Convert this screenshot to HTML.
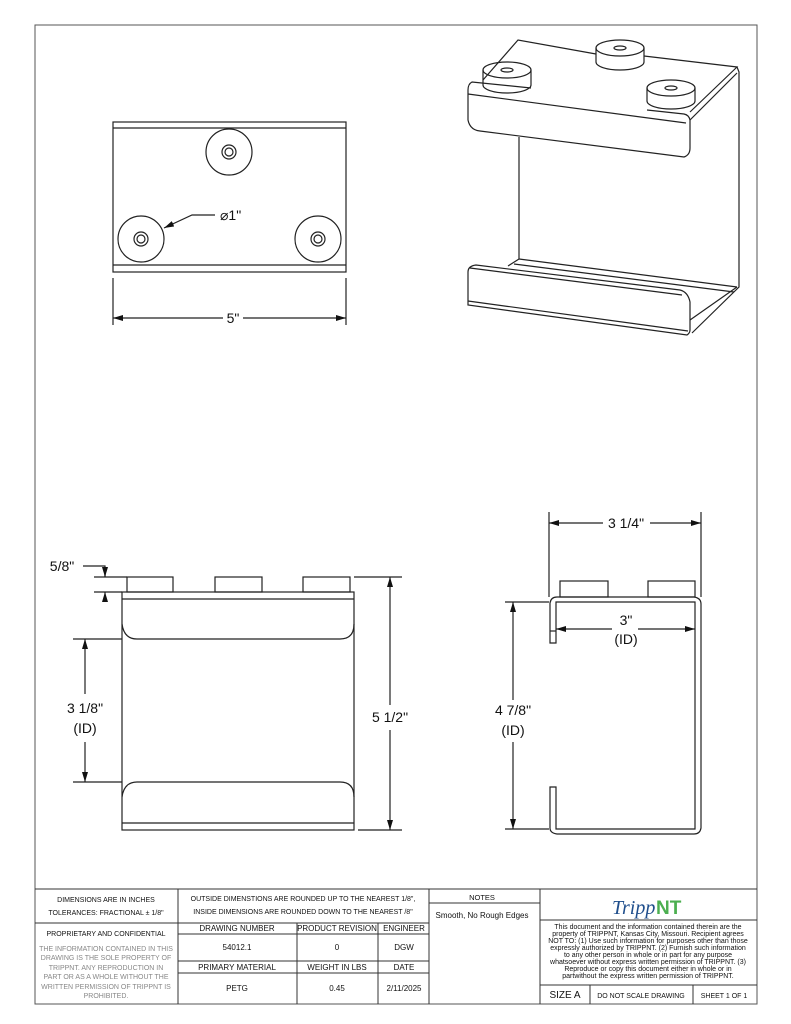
<!DOCTYPE html>
<html><head><meta charset="utf-8"><style>
html,body{margin:0;padding:0;background:#fff;}
svg{display:block;}
text{font-family:"Liberation Sans",sans-serif;fill:#111;}
</style></head><body>
<svg width="791" height="1024" viewBox="0 0 791 1024" xmlns="http://www.w3.org/2000/svg">
<defs>
<marker id="a" viewBox="0 0 10 6" refX="10" refY="3" markerWidth="10" markerHeight="6" orient="auto-start-reverse" markerUnits="userSpaceOnUse"><path d="M0,0 L10,3 L0,6 z" fill="#111"/></marker>
</defs>
<rect x="0" y="0" width="791" height="1024" fill="#fff"/>
<rect x="35" y="25" width="722" height="979" fill="none" stroke="#555" stroke-width="1"/>

<g fill="none" stroke="#222" stroke-width="1.2">
<!-- TOP VIEW -->
<rect x="113" y="122" width="233" height="150"/>
<line x1="113" y1="128" x2="346" y2="128"/>
<line x1="113" y1="265" x2="346" y2="265"/>
<circle cx="229" cy="152" r="23"/><circle cx="229" cy="152" r="7"/><circle cx="229" cy="152" r="4"/>
<circle cx="141" cy="239" r="23"/><circle cx="141" cy="239" r="7"/><circle cx="141" cy="239" r="4"/>
<circle cx="318" cy="239" r="23"/><circle cx="318" cy="239" r="7"/><circle cx="318" cy="239" r="4"/>
<polyline points="215,215 192,215 164,228" marker-end="url(#a)"/>
<line x1="113" y1="278" x2="113" y2="325"/>
<line x1="346" y1="278" x2="346" y2="325"/>
<line x1="113" y1="318" x2="223" y2="318" marker-start="url(#a)"/>
<line x1="243" y1="318" x2="346" y2="318" marker-end="url(#a)"/>

<!-- ISO VIEW -->
<ellipse cx="507" cy="70" rx="24" ry="8"/>
<path d="M483,70 V85 A24,8 0 0 0 531,85 V70"/>
<ellipse cx="507" cy="70" rx="6" ry="2"/>
<ellipse cx="620" cy="48" rx="24" ry="8"/>
<path d="M596,48 V62 A24,8 0 0 0 644,62 V48"/>
<ellipse cx="620" cy="48" rx="6" ry="2"/>
<ellipse cx="671" cy="88" rx="24" ry="8"/>
<path d="M647,88 V101 A24,8 0 0 0 695,101 V88"/>
<ellipse cx="671" cy="88" rx="6" ry="2"/>
<path d="M483,80 L518,40 L596,54"/>
<path d="M644,56 L737,67 L690,112"/>
<path d="M531,88 L472,82 Q468,84 468,90 L468,120 Q470,130 480,131 L684,157 Q690,155 690,148 L690,120 Q689,115 684,114 L647,110"/>
<path d="M468,94 L686,123"/>
<path d="M737,67 L739,72 L739,287 L692,333"/>
<path d="M690,120 L737,73"/>
<line x1="519" y1="137" x2="519" y2="259"/>
<path d="M519,259 L737,287"/>
<path d="M519,259 L508,266"/>
<path d="M514,264 L734,292"/>
<path d="M476,265 Q468,266 468,272 L468,305 L687,335 Q690,333 690,330 L690,302 Q688,292 680,290 L476,265 Z"/>
<path d="M470,268 L682,295"/>
<path d="M468,301 L688,331"/>
<path d="M690,320 L737,287"/>

<!-- FRONT VIEW -->
<rect x="127" y="577" width="46" height="15"/>
<rect x="215" y="577" width="47" height="15"/>
<rect x="303" y="577" width="47" height="15"/>
<rect x="122" y="592" width="232" height="238"/>
<line x1="122" y1="599" x2="354" y2="599"/>
<line x1="122" y1="823" x2="354" y2="823"/>
<path d="M122,624 Q124,639 137,639 L340,639 Q354,639 354,624"/>
<path d="M122,797 Q124,782 137,782 L340,782 Q354,782 354,797"/>
<line x1="94" y1="577" x2="127" y2="577"/>
<line x1="94" y1="592" x2="122" y2="592"/>
<polyline points="83,566 105,566 105,577"/>
<line x1="105" y1="567" x2="105" y2="577" marker-end="url(#a)"/>
<line x1="105" y1="602" x2="105" y2="592" marker-end="url(#a)"/>
<line x1="73" y1="639" x2="122" y2="639"/>
<line x1="73" y1="782" x2="122" y2="782"/>
<line x1="85" y1="694" x2="85" y2="639" marker-end="url(#a)"/>
<line x1="85" y1="742" x2="85" y2="782" marker-end="url(#a)"/>
<line x1="354" y1="577" x2="402" y2="577"/>
<line x1="358" y1="830" x2="402" y2="830"/>
<line x1="390" y1="705" x2="390" y2="577" marker-end="url(#a)"/>
<line x1="390" y1="730" x2="390" y2="830" marker-end="url(#a)"/>

<!-- SIDE VIEW -->
<rect x="560" y="581" width="48" height="16"/>
<rect x="648" y="581" width="47" height="16"/>
<path d="M556,643 L550,643 L550,603 Q551,597 557,597 L694,597 Q701,598 701,604 L701,828 Q700,834 694,834 L557,834 Q550,833 550,828 L550,787 L556,787 L556,829 L695,829 L695,602 L556,602 Z"/>
<line x1="550" y1="631" x2="556" y2="631"/>
<line x1="549" y1="512" x2="549" y2="597"/>
<line x1="701" y1="512" x2="701" y2="597"/>
<line x1="603" y1="523" x2="549" y2="523" marker-end="url(#a)"/>
<line x1="650" y1="523" x2="701" y2="523" marker-end="url(#a)"/>
<line x1="612" y1="629" x2="556" y2="629" marker-end="url(#a)"/>
<line x1="638" y1="629" x2="695" y2="629" marker-end="url(#a)"/>
<line x1="505" y1="602" x2="549" y2="602"/>
<line x1="505" y1="829" x2="549" y2="829"/>
<line x1="513" y1="700" x2="513" y2="602" marker-end="url(#a)"/>
<line x1="513" y1="742" x2="513" y2="829" marker-end="url(#a)"/>
</g>

<g font-size="14">
<text x="220" y="220">⌀1"</text>
<text x="233" y="323" text-anchor="middle">5"</text>
<text x="62" y="571" text-anchor="middle">5/8"</text>
<text x="85" y="713" text-anchor="middle">3 1/8"</text>
<text x="85" y="733" text-anchor="middle">(ID)</text>
<text x="390" y="722" text-anchor="middle">5 1/2"</text>
<text x="626" y="528" text-anchor="middle">3 1/4"</text>
<text x="626" y="625" text-anchor="middle">3"</text>
<text x="626" y="644" text-anchor="middle">(ID)</text>
<text x="513" y="715" text-anchor="middle">4 7/8"</text>
<text x="513" y="735" text-anchor="middle">(ID)</text>
</g>

<g fill="none" stroke="#333" stroke-width="1">
<line x1="35" y1="889" x2="757" y2="889"/>
<line x1="178" y1="889" x2="178" y2="1004"/>
<line x1="429" y1="889" x2="429" y2="1004"/>
<line x1="540" y1="889" x2="540" y2="1004"/>
<line x1="35" y1="923" x2="429" y2="923"/>
<line x1="178" y1="934" x2="429" y2="934"/>
<line x1="178" y1="961" x2="429" y2="961"/>
<line x1="178" y1="973" x2="429" y2="973"/>
<line x1="297" y1="923" x2="297" y2="1004"/>
<line x1="378" y1="923" x2="378" y2="1004"/>
<line x1="429" y1="903" x2="540" y2="903"/>
<line x1="540" y1="920" x2="757" y2="920"/>
<line x1="540" y1="985" x2="757" y2="985"/>
<line x1="590" y1="985" x2="590" y2="1004"/>
<line x1="693" y1="985" x2="693" y2="1004"/>
</g>
<g font-size="7" text-anchor="middle">
<text x="106" y="902">DIMENSIONS ARE IN INCHES</text>
<text x="106" y="915">TOLERANCES: FRACTIONAL ± 1/8"</text>
<text x="303" y="901">OUTSIDE DIMENSTIONS ARE ROUNDED UP TO THE NEAREST 1/8",</text>
<text x="303" y="914">INSIDE DIMENSIONS ARE ROUNDED DOWN TO THE NEAREST /8"</text>
<text x="106" y="936">PROPRIETARY AND CONFIDENTIAL</text>
<text x="106" y="951" style="fill:#888">THE INFORMATION CONTAINED IN THIS</text>
<text x="106" y="960" style="fill:#888">DRAWING IS THE SOLE PROPERTY OF</text>
<text x="106" y="970" style="fill:#888">TRIPPNT.  ANY REPRODUCTION IN</text>
<text x="106" y="979" style="fill:#888">PART OR AS A WHOLE WITHOUT THE</text>
<text x="106" y="989" style="fill:#888">WRITTEN PERMISSION OF TRIPPNT IS</text>
<text x="106" y="998" style="fill:#888">PROHIBITED.</text>
<text x="237" y="931" font-size="8">DRAWING NUMBER</text>
<text x="337" y="931" font-size="8">PRODUCT REVISION</text>
<text x="404" y="931" font-size="8">ENGINEER</text>
<text x="237" y="950" font-size="8">54012.1</text>
<text x="337" y="950" font-size="8">0</text>
<text x="404" y="950" font-size="8">DGW</text>
<text x="237" y="970" font-size="8">PRIMARY MATERIAL</text>
<text x="337" y="970" font-size="8">WEIGHT IN LBS</text>
<text x="404" y="970" font-size="8">DATE</text>
<text x="237" y="991" font-size="8">PETG</text>
<text x="337" y="991" font-size="8">0.45</text>
<text x="404" y="991" font-size="8">2/11/2025</text>
<text x="482" y="900" font-size="7.5">NOTES</text>
<text x="482" y="918" font-size="8">Smooth, No Rough Edges</text>
<text x="648" y="929">This document and the information contained therein are the</text>
<text x="648" y="936">property of TRIPPNT, Kansas City, Missouri. Recipient agrees</text>
<text x="648" y="943">NOT TO: (1) Use such information for purposes other than those</text>
<text x="648" y="950">expressly authorized by TRIPPNT. (2) Furnish such information</text>
<text x="648" y="957">to any other person in whole or in part for any purpose</text>
<text x="648" y="964">whatsoever without express  written permission of TRIPPNT. (3)</text>
<text x="648" y="971">Reproduce or copy this document either in whole or in</text>
<text x="648" y="978">partwithout the express written permission of TRIPPNT.</text>
<text x="565" y="998" font-size="10">SIZE A</text>
<text x="641" y="998">DO  NOT  SCALE  DRAWING</text>
<text x="724" y="998">SHEET 1 OF 1</text>
</g>
<text x="612" y="914" font-size="20" font-style="italic" style="fill:#1f4e8c;font-family:'Liberation Serif',serif">Tripp</text>
<text x="656" y="914" font-size="19" font-weight="bold" style="fill:#4caf50">NT</text>
</svg>
</body></html>
